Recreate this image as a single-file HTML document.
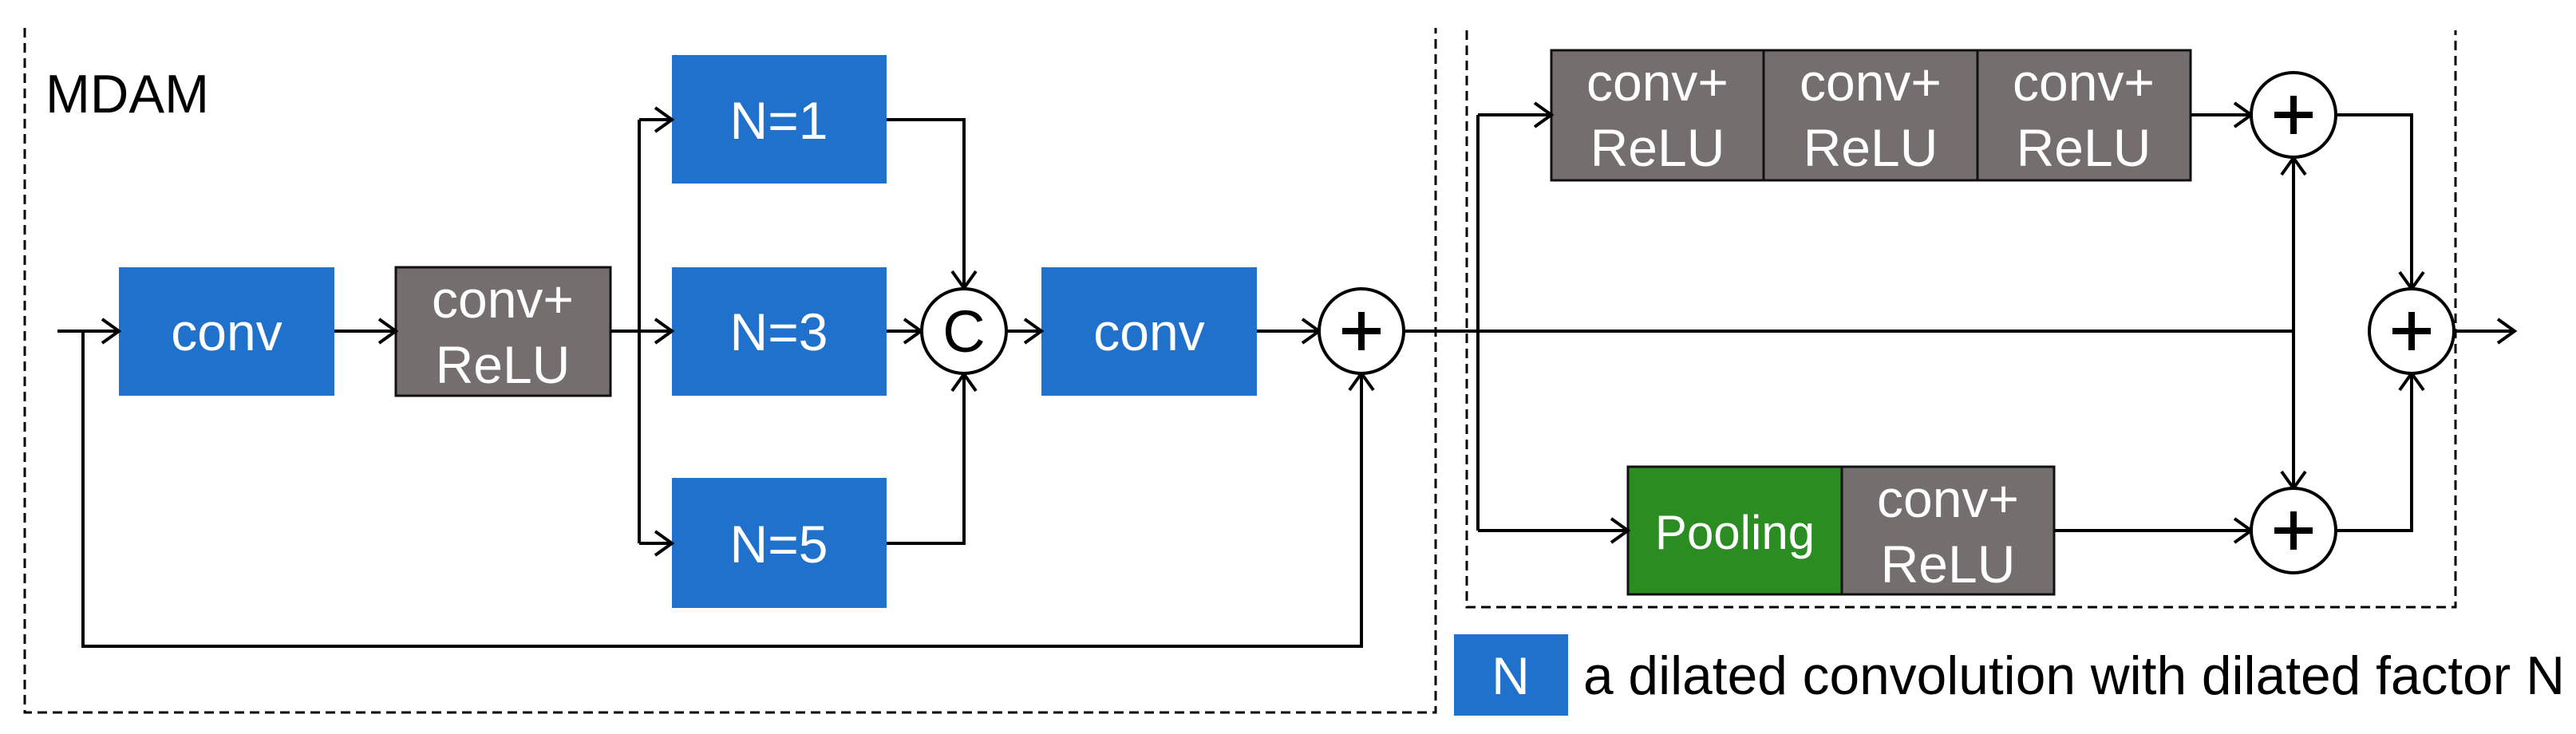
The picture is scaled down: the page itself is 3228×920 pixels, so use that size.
<!DOCTYPE html>
<html><head><meta charset="utf-8"><style>
html,body{margin:0;padding:0;background:#fff;}
svg{display:block;}
text{font-family:"Liberation Sans",sans-serif;}
</style></head><body>
<svg width="3228" height="920" viewBox="0 0 3228 920" xmlns="http://www.w3.org/2000/svg">
<g fill="none" stroke="#000" stroke-width="3" stroke-dasharray="12,7">
<path d="M31,35 V893 H1799 V35"/>
<path d="M1838,38 V761 H3077 V38"/>
</g>
<text x="57" y="141" font-size="68" fill="#000" textLength="205" lengthAdjust="spacingAndGlyphs">MDAM</text>

<g fill="#2071cc">
<rect x="149" y="335" width="270" height="161"/>
<rect x="842" y="69" width="269" height="161"/>
<rect x="842" y="335" width="269" height="161"/>
<rect x="842" y="599" width="269" height="163"/>
<rect x="1305" y="335" width="270" height="161"/>
<rect x="1822" y="795" width="143" height="102"/>
</g>
<g fill="#746e6e" stroke="#111" stroke-width="3">
<rect x="496" y="335" width="269" height="161"/>
<rect x="1944" y="63" width="266" height="163"/>
<rect x="2210" y="63" width="268" height="163"/>
<rect x="2478" y="63" width="267" height="163"/>
<rect x="2308" y="585" width="266" height="160"/>
</g>
<rect x="2040" y="585" width="268" height="160" fill="#2b8c22" stroke="#111" stroke-width="3"/>

<g fill="#fff" font-size="66" text-anchor="middle">
<text x="284" y="439">conv</text>
<text x="1440" y="439">conv</text>
<text x="976" y="174">N=1</text>
<text x="976" y="439">N=3</text>
<text x="976" y="705">N=5</text>
<text x="630" y="398">conv+</text>
<text x="630" y="480">ReLU</text>
<text x="2077" y="126">conv+</text>
<text x="2077" y="208">ReLU</text>
<text x="2344" y="126">conv+</text>
<text x="2344" y="208">ReLU</text>
<text x="2611" y="126">conv+</text>
<text x="2611" y="208">ReLU</text>
<text x="2441" y="648">conv+</text>
<text x="2441" y="730">ReLU</text>
<text x="2174" y="688" font-size="60">Pooling</text>
<text x="1893" y="870" font-size="66">N</text>
</g>
<text x="1984" y="870" font-size="68" fill="#000" textLength="1230" lengthAdjust="spacingAndGlyphs">a dilated convolution with dilated factor N</text>

<g fill="none" stroke="#000" stroke-width="4">
<path d="M72,415 H149"/>
<path d="M104,415 V810 H1706 V468"/>
<path d="M419,415 H496"/>
<path d="M765,415 H842"/>
<path d="M801,150 V681"/>
<path d="M801,150 H842 M801,681 H842"/>
<path d="M1111,150 H1208 V361"/>
<path d="M1111,681 H1208 V469"/>
<path d="M1111,415 H1154"/>
<path d="M1262,415 H1305"/>
<path d="M1575,415 H1653"/>
<path d="M1759,415 H2874"/>
<path d="M1852,144 V665"/>
<path d="M1852,144 H1944"/>
<path d="M1852,665 H2040"/>
<path d="M2745,144 H2821"/>
<path d="M2574,665 H2821"/>
<path d="M2874,198 V612"/>
<path d="M2927,144 H3022 V362"/>
<path d="M2927,665 H3022 V468"/>
<path d="M3075,415 H3151"/>
</g>
<g fill="none" stroke="#000" stroke-width="4">
<path d="M128,400 L149,415 L128,430"/>
<path d="M475,400 L496,415 L475,430"/>
<path d="M821,400 L842,415 L821,430"/>
<path d="M821,135 L842,150 L821,165"/>
<path d="M821,666 L842,681 L821,696"/>
<path d="M1193,340 L1208,361 L1223,340"/>
<path d="M1193,490 L1208,469 L1223,490"/>
<path d="M1133,400 L1154,415 L1133,430"/>
<path d="M1284,400 L1305,415 L1284,430"/>
<path d="M1632,400 L1653,415 L1632,430"/>
<path d="M1691,489 L1706,468 L1721,489"/>
<path d="M1923,129 L1944,144 L1923,159"/>
<path d="M2019,650 L2040,665 L2019,680"/>
<path d="M2800,129 L2821,144 L2800,159"/>
<path d="M2800,650 L2821,665 L2800,680"/>
<path d="M2859,219 L2874,198 L2889,219"/>
<path d="M2859,591 L2874,612 L2889,591"/>
<path d="M3007,341 L3022,362 L3037,341"/>
<path d="M3007,489 L3022,468 L3037,489"/>
<path d="M3130,400 L3151,415 L3130,430"/>
</g>
<g fill="#fff" stroke="#000" stroke-width="4">
<circle cx="1208" cy="415" r="53"/>
<circle cx="1706" cy="415" r="53"/>
<circle cx="2874" cy="144" r="53"/>
<circle cx="2874" cy="665" r="53"/>
<circle cx="3022" cy="415" r="53"/>
</g>
<text x="1208" y="441" font-size="74" text-anchor="middle" fill="#000">C</text>
<g stroke="#000" stroke-width="8">
<path d="M1682,415 H1730 M1706,391 V439"/>
<path d="M2850,144 H2898 M2874,120 V168"/>
<path d="M2850,665 H2898 M2874,641 V689"/>
<path d="M2998,415 H3046 M3022,391 V439"/>
</g>
</svg>
</body></html>
